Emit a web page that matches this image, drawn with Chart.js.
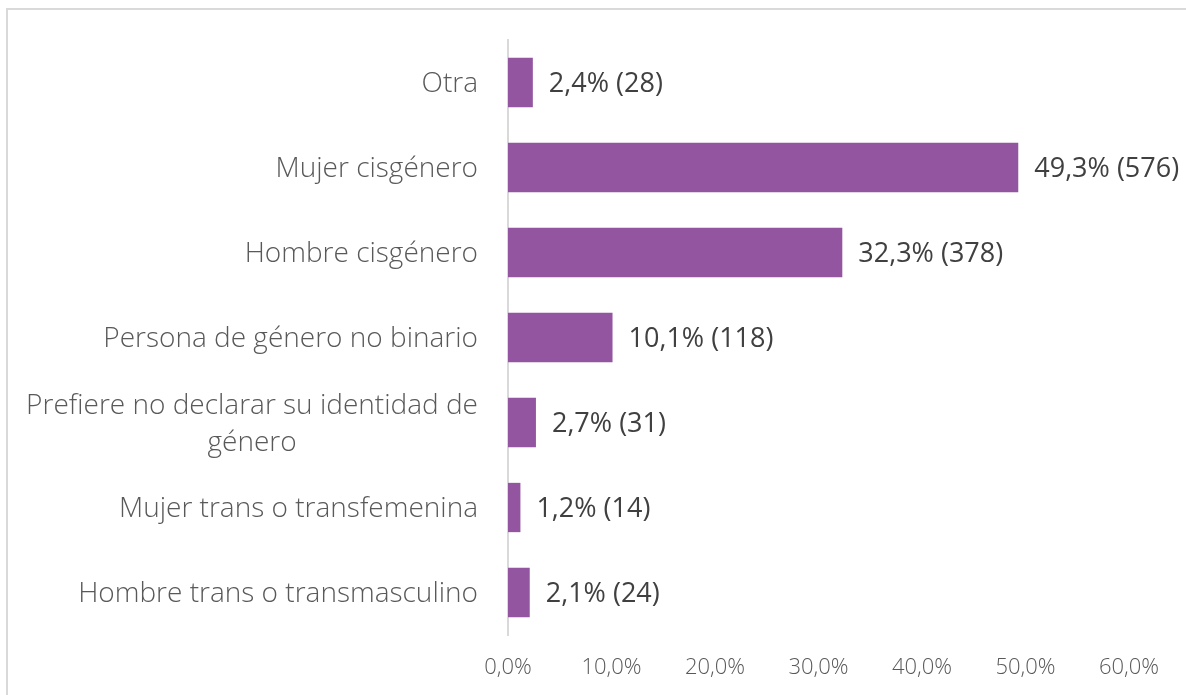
<!DOCTYPE html>
<html><head><meta charset="utf-8">
<script src="https://cdn.jsdelivr.net/npm/chart.js@4"></script>
<style>
html,body{margin:0;padding:0;background:#fff;overflow:hidden}
#frame{position:absolute;left:6px;top:8px;width:1200px;height:700px;border:2px solid #d9d9d9;box-sizing:border-box}
#wrap{position:absolute;left:0;top:0;width:1186px;height:695px}
</style></head><body>
<div id="frame"></div>
<div id="wrap"><canvas id="c" width="1186" height="695"></canvas></div>
<script>
const categories = [
  ["Otra"],
  ["Mujer cisgénero"],
  ["Hombre cisgénero"],
  ["Persona de género no binario"],
  ["Prefiere no declarar su identidad de", "género"],
  ["Mujer trans o transfemenina"],
  ["Hombre trans o transmasculino"]
];
const percentages = [2.4, 49.3, 32.3, 10.1, 2.7, 1.2, 2.1];
const counts = [28, 576, 378, 118, 31, 14, 24];
const xTicks = [0, 10, 20, 30, 40, 50, 60];

const fmt = v => v.toFixed(1).replace('.', ',');

const labelPlugin = {
  id: 'labels',
  afterDatasetsDraw(chart) {
    const ctx = chart.ctx;
    const y = chart.scales.y;
    const x = chart.scales.x;
    ctx.save();
    // category labels
    ctx.font = '300 28px "Open Sans"';
    ctx.fillStyle = '#595959';
    ctx.textAlign = 'center';
    ctx.textBaseline = 'middle';
    const right = chart.chartArea.left - 30;
    const lh = 37;
    categories.forEach((lines, i) => {
      const yc = y.getPixelForValue(i) + 2;
      const w = Math.max(...lines.map(l => ctx.measureText(l).width));
      const cx = right - w / 2;
      lines.forEach((l, j) => {
        ctx.fillText(l, cx, yc + (j - (lines.length - 1) / 2) * lh);
      });
    });
    // data labels
    ctx.font = '400 27px "Open Sans"';
    ctx.fillStyle = '#404040';
    ctx.textAlign = 'left';
    percentages.forEach((v, i) => {
      const xp = x.getPixelForValue(v) + 16;
      const yc = y.getPixelForValue(i) + 2;
      ctx.fillText(fmt(v) + '% (' + counts[i] + ')', xp, yc);
    });
    ctx.restore();
  }
};

new Chart(document.getElementById('c'), {
  type: 'bar',
  data: {
    labels: categories.map(c => c.join(' ')),
    datasets: [{
      data: percentages,
      backgroundColor: '#93559F',
      barPercentage: 0.58,
      categoryPercentage: 1
    }]
  },
  options: {
    indexAxis: 'y',
    responsive: false,
    animation: false,
    layout: { padding: { top: 40, right: 57, bottom: 0, left: 0 } },
    plugins: { legend: { display: false }, tooltip: { enabled: false } },
    scales: {
      x: {
        min: 0, max: 60,
        afterBuildTicks: s => { s.ticks = xTicks.map(v => ({ value: v })); },
        ticks: {
          callback: v => fmt(v) + '%',
          font: { family: 'Open Sans', weight: '300', size: 22 },
          color: '#595959',
          padding: 20,
          maxRotation: 0
        },
        grid: { display: false, drawTicks: false },
        border: { display: false },
        afterFit: s => { s.height = 60; }
      },
      y: {
        ticks: { display: false },
        grid: { display: false, drawTicks: false },
        border: { display: true, color: '#d9d9d9', width: 2 },
        afterFit: s => { s.width = 508; }
      }
    }
  },
  plugins: [labelPlugin]
});
</script>
</body></html>
